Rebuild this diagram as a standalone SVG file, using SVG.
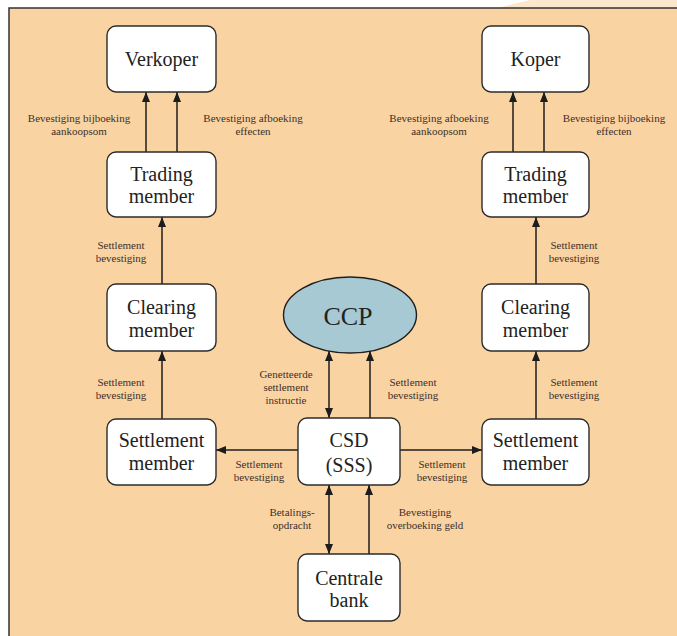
<svg xmlns="http://www.w3.org/2000/svg" width="677" height="636" viewBox="0 0 677 636">
  <style>
    .node rect { fill: #ffffff; stroke: #2b2b2b; stroke-width: 1.4; }
    .node ellipse { fill: #a7c9d3; stroke: #1f1f1f; stroke-width: 1.4; }
    .title { font-family: "Liberation Serif", "Times New Roman", serif; font-size: 20px; fill: #222222; text-anchor: middle; }
    .big { font-size: 26px; }
    .lbl { font-family: "Liberation Serif", "Times New Roman", serif; font-size: 11px; fill: #3d302a; text-anchor: middle; }
    .edge { stroke: #1c1c1c; stroke-width: 1.5; fill: none; }
  </style>
  <defs>
    <marker id="head" markerUnits="userSpaceOnUse" markerWidth="10" markerHeight="8" refX="10" refY="4" orient="auto-start-reverse">
      <path d="M0,0 L10,4 L0,8 z" fill="#1c1c1c"/>
    </marker>
  </defs>

  <!-- page background and frame -->
  <rect x="0" y="0" width="677" height="636" fill="#ffffff"/>
  <polygon points="497,8 530,0 677,0 677,8" fill="#fce7cc"/>
  <rect x="9" y="8" width="668" height="628" fill="#fad3a3"/>
  <path d="M9,636 L9,8 L677,8" fill="none" stroke="#333333" stroke-width="1.5"/>

  <!-- connectors -->
  <g id="connectors">
    <line class="edge" x1="146" y1="152" x2="146" y2="92" marker-end="url(#head)"/>
    <line class="edge" x1="177" y1="152" x2="177" y2="92" marker-end="url(#head)"/>
    <line class="edge" x1="513" y1="152" x2="513" y2="92" marker-end="url(#head)"/>
    <line class="edge" x1="544" y1="152" x2="544" y2="92" marker-end="url(#head)"/>
    <line class="edge" x1="162" y1="284" x2="162" y2="217" marker-end="url(#head)"/>
    <line class="edge" x1="162" y1="419" x2="162" y2="351" marker-end="url(#head)"/>
    <line class="edge" x1="536" y1="284" x2="536" y2="217" marker-end="url(#head)"/>
    <line class="edge" x1="536" y1="419" x2="536" y2="351" marker-end="url(#head)"/>
    <line class="edge" x1="329" y1="418" x2="329" y2="351" marker-start="url(#head)" marker-end="url(#head)"/>
    <line class="edge" x1="370" y1="418" x2="370" y2="351" marker-end="url(#head)"/>
    <line class="edge" x1="298" y1="450" x2="216" y2="450" marker-end="url(#head)"/>
    <line class="edge" x1="400" y1="450" x2="482" y2="450" marker-end="url(#head)"/>
    <line class="edge" x1="329" y1="554" x2="329" y2="485" marker-start="url(#head)" marker-end="url(#head)"/>
    <line class="edge" x1="369" y1="554" x2="369" y2="485" marker-end="url(#head)"/>

    <!-- connector labels -->
    <text class="lbl" x="79" y="122">Bevestiging bijboeking</text>
    <text class="lbl" x="79" y="135">aankoopsom</text>
    <text class="lbl" x="253" y="122">Bevestiging afboeking</text>
    <text class="lbl" x="253" y="135">effecten</text>
    <text class="lbl" x="439" y="122">Bevestiging afboeking</text>
    <text class="lbl" x="439" y="135">aankoopsom</text>
    <text class="lbl" x="614" y="122">Bevestiging bijboeking</text>
    <text class="lbl" x="614" y="135">effecten</text>

    <text class="lbl" x="121" y="249">Settlement</text>
    <text class="lbl" x="121" y="262">bevestiging</text>
    <text class="lbl" x="121" y="386">Settlement</text>
    <text class="lbl" x="121" y="399">bevestiging</text>
    <text class="lbl" x="574" y="249">Settlement</text>
    <text class="lbl" x="574" y="262">bevestiging</text>
    <text class="lbl" x="574" y="386">Settlement</text>
    <text class="lbl" x="574" y="399">bevestiging</text>

    <text class="lbl" x="286" y="378">Genetteerde</text>
    <text class="lbl" x="286" y="391">settlement</text>
    <text class="lbl" x="286" y="404">instructie</text>
    <text class="lbl" x="413" y="386">Settlement</text>
    <text class="lbl" x="413" y="399">bevestiging</text>

    <text class="lbl" x="259" y="468">Settlement</text>
    <text class="lbl" x="259" y="481">bevestiging</text>
    <text class="lbl" x="442" y="468">Settlement</text>
    <text class="lbl" x="442" y="481">bevestiging</text>

    <text class="lbl" x="292" y="516">Betalings-</text>
    <text class="lbl" x="292" y="529">opdracht</text>
    <text class="lbl" x="425" y="516">Bevestiging</text>
    <text class="lbl" x="425" y="529">overboeking geld</text>
  </g>

  <!-- nodes -->
  <g id="verkoper" class="node">
    <rect x="107" y="26" width="109" height="66" rx="9"/>
    <text class="title" x="161.5" y="66">Verkoper</text>
  </g>
  <g id="koper" class="node">
    <rect x="482" y="26" width="107" height="66" rx="9"/>
    <text class="title" x="535.5" y="66">Koper</text>
  </g>
  <g id="trading-member-left" class="node">
    <rect x="107" y="152" width="109" height="65" rx="9"/>
    <text class="title" x="161.5" y="181">Trading</text>
    <text class="title" x="161.5" y="203">member</text>
  </g>
  <g id="trading-member-right" class="node">
    <rect x="482" y="152" width="107" height="65" rx="9"/>
    <text class="title" x="535.5" y="181">Trading</text>
    <text class="title" x="535.5" y="203">member</text>
  </g>
  <g id="clearing-member-left" class="node">
    <rect x="107" y="284" width="109" height="67" rx="9"/>
    <text class="title" x="161.5" y="314">Clearing</text>
    <text class="title" x="161.5" y="337">member</text>
  </g>
  <g id="clearing-member-right" class="node">
    <rect x="482" y="284" width="107" height="67" rx="9"/>
    <text class="title" x="535.5" y="314">Clearing</text>
    <text class="title" x="535.5" y="337">member</text>
  </g>
  <g id="settlement-member-left" class="node">
    <rect x="107" y="419" width="109" height="66" rx="9"/>
    <text class="title" x="161.5" y="447">Settlement</text>
    <text class="title" x="161.5" y="470">member</text>
  </g>
  <g id="settlement-member-right" class="node">
    <rect x="482" y="419" width="107" height="66" rx="9"/>
    <text class="title" x="535.5" y="447">Settlement</text>
    <text class="title" x="535.5" y="470">member</text>
  </g>
  <g id="ccp" class="node">
    <ellipse cx="350" cy="315" rx="66.5" ry="38"/>
    <text class="title big" x="348" y="325">CCP</text>
  </g>
  <g id="csd" class="node">
    <rect x="298" y="418" width="102" height="67" rx="9"/>
    <text class="title" x="349" y="447">CSD</text>
    <text class="title" x="349" y="472">(SSS)</text>
  </g>
  <g id="centrale-bank" class="node">
    <rect x="298" y="554" width="102" height="67" rx="9"/>
    <text class="title" x="349" y="585">Centrale</text>
    <text class="title" x="349" y="607">bank</text>
  </g>
</svg>
